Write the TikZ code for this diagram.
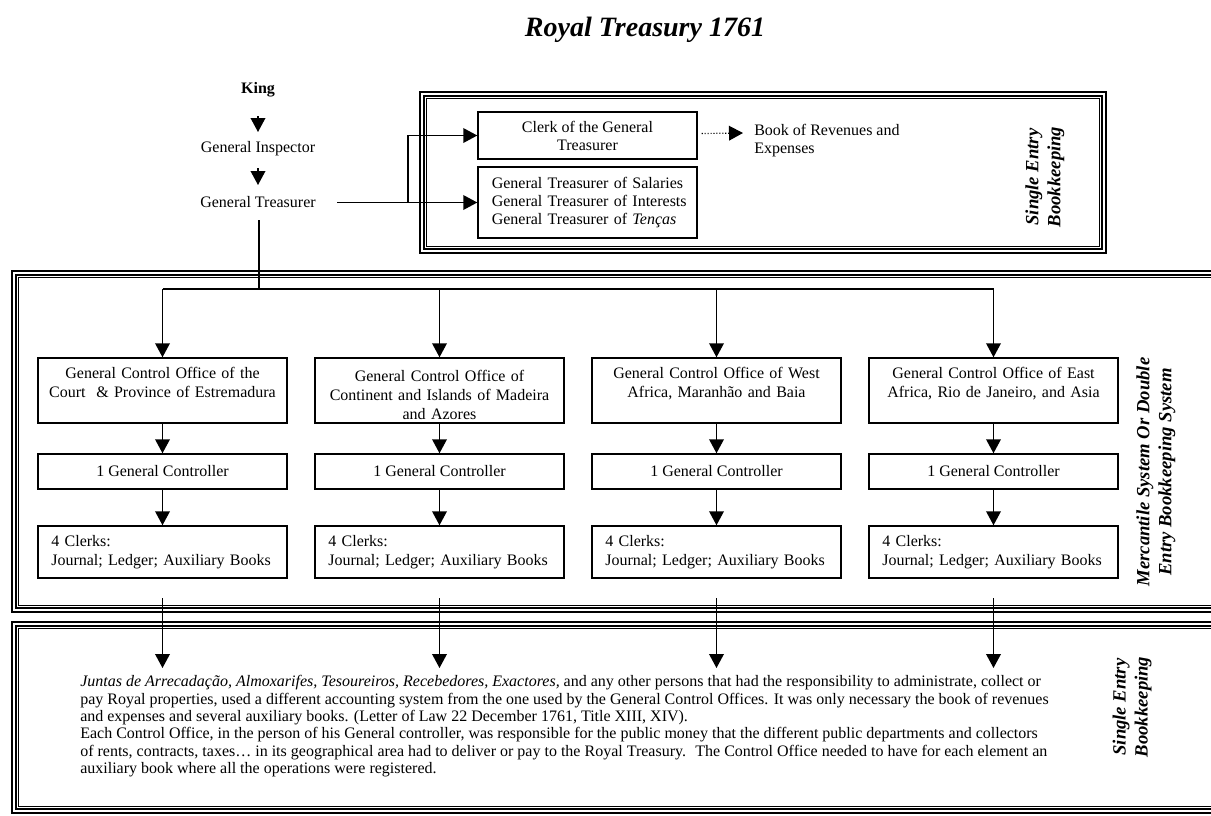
\documentclass[tikz,border=0pt]{standalone}
\usepackage{fontspec}
\setmainfont{Liberation Serif}
\usetikzlibrary{arrows.meta,calc}
\begin{document}
\begin{tikzpicture}[x=0.75pt,y=-0.75pt,
  txt/.style={font=\fontsize{12}{14.25}\selectfont, inner sep=0pt},
  box/.style={draw, line width=1.1pt, font=\fontsize{12}{14.25}\selectfont, inner sep=0pt},
  conn/.style={line width=1.1pt, -{Triangle[length=10.5pt,width=11pt]}},
  dconn/.style={line width=0.9pt, dash pattern=on 0.8pt off 1.4pt, -{Triangle[length=10.5pt,width=11pt]}},
  plain/.style={line width=1.1pt},
  side/.style={rotate=90, align=center, font=\fontsize{14}{16.5}\selectfont\bfseries\itshape, inner sep=0pt},
  fa/.style={line width=1.3pt},
  fb/.style={line width=0.8pt},
  fc/.style={line width=1.1pt}
]
\useasboundingbox (0,0) rectangle (1211,815);
\clip (0,0) rectangle (1211,815);

% frames
\newcommand\triframe[4]{%
  \draw[fa] (#1,#2) rectangle (#3,#4);
  \draw[fb] (#1+4,#2+4) rectangle (#3-4,#4-4);
  \draw[fc] (#1+6.5,#2+6.5) rectangle (#3-6.5,#4-6.5);}
\triframe{420}{92}{1106}{253}
\triframe{12}{271}{1230}{612}
\triframe{12}{622}{1230}{813}

% title
\node[inner sep=0pt, font=\fontsize{21}{25}\selectfont\bfseries\itshape] (title) at (645,30) {Royal Treasury 1761};

% left hierarchy
\node[txt, font=\fontsize{12}{14}\selectfont\bfseries] (king) at (258,90) {King};
\node[txt] (gi) at (258,149) {General Inspector};
\node[txt] (gt) at (258,202) {General Treasurer};
\draw[conn] ($(king)+(0,26)$) -- ($(gi)+(0,-17)$);
\draw[conn] ($(gi)+(0,19)$) -- ($(gt)+(0,-17)$);

% top right boxes
\node[box, minimum width=164.25pt, minimum height=35.25pt, align=center, font=\fontsize{12}{13.5}\selectfont] (clerk) at (587.5,135.5) {Clerk of the General\\Treasurer};
\node[box, minimum width=164.25pt, minimum height=53.25pt, align=left, text width=153pt, inner xsep=5.6pt, font=\fontsize{12}{13.75}\selectfont] (sal) at (587.5,202.5) {\hspace*{4.7pt}General Treasurer of Salaries\\\hspace*{4.7pt}General Treasurer of Interests\\\hspace*{4.7pt}General Treasurer of \textit{Tenças}};
\node[txt, anchor=west, align=left, font=\fontsize{12}{13.5}\selectfont] (book) at (754,141) {Book of Revenues and\\Expenses};
\node[side] (se1) at (1045,177) {Single Entry\\Bookkeeping};

\coordinate (gtr) at (337,202.5);
\coordinate (br) at (408,202.5);
\draw[conn] (gtr) -- (sal.west);
\draw[conn] (br) |- (clerk.west);
\draw[dconn] ($(clerk.east)+(4,-2)$) -- ($(book.west)+(-11,-8)$);

% control offices
\foreach \i/\c/\t in {1/162.5/{\rule{0pt}{14.5pt}General Control Office of the\\Court~ \& Province of Estremadura\\\strut},
                     2/439.5/{\rule{0pt}{14.5pt}General Control Office of\\Continent and Islands of Madeira\\and Azores},
                     3/716.5/{\rule{0pt}{14.5pt}General Control Office of West\\Africa, Maranhão and Baia\\\strut},
                     4/993.5/{\rule{0pt}{14.5pt}General Control Office of East\\Africa, Rio de Janeiro, and Asia\\\strut}}{
  \node[box, minimum width=186.75pt, minimum height=48.75pt, align=center, text width=182pt] (o\i) at (\c,390.5) {\t};
  \node[box, minimum width=186.75pt, minimum height=26.25pt] (g\i) at (\c,471.5) {1 General Controller};
  \node[box, minimum width=186.75pt, minimum height=39pt, align=left, text width=166.75pt, inner xsep=10pt] (k\i) at (\c,552) {4 Clerks:\\Journal; Ledger; Auxiliary Books};
  \draw[conn] (o\i.south) -- (g\i.north);
  \draw[conn] (g\i.south) -- (k\i.north);
  \coordinate (b\i) at (\c,289);
  \draw[conn] (b\i) -- (o\i.north);
  \coordinate (d\i) at (\c,598);
  \coordinate (e\i) at (\c,668);
  \draw[conn] (d\i) -- (e\i);
}
\draw[plain] ($(gt)+(1,18)$) -- (259,289);
\draw[plain] (b1) -- (b4);

\node[side] (merc) at (1156,472) {Mercantile System Or Double\\Entry Bookkeeping System};

% bottom note
\node[txt, anchor=north west, align=left, font=\fontsize{12}{13.1}\selectfont] (note) at (80,675) {\textit{Juntas de Arrecadação, Almoxarifes, Tesoureiros, Recebedores, Exactores,} and any other persons that had the responsibility to administrate, collect or\\
pay Royal properties, used a different accounting system from the one used by the General Control Offices. It was only necessary the book of revenues\\
and expenses and several auxiliary books. (Letter of Law 22 December 1761, Title XIII, XIV).\\
Each Control Office, in the person of his General controller, was responsible for the public money that the different public departments and collectors\\
of rents, contracts, taxes… in its geographical area had to deliver or pay to the Royal Treasury.~ The Control Office needed to have for each element an\\
auxiliary book where all the operations were registered.};
\node[side] (se2) at (1132,707) {Single Entry\\Bookkeeping};
\end{tikzpicture}
\end{document}
